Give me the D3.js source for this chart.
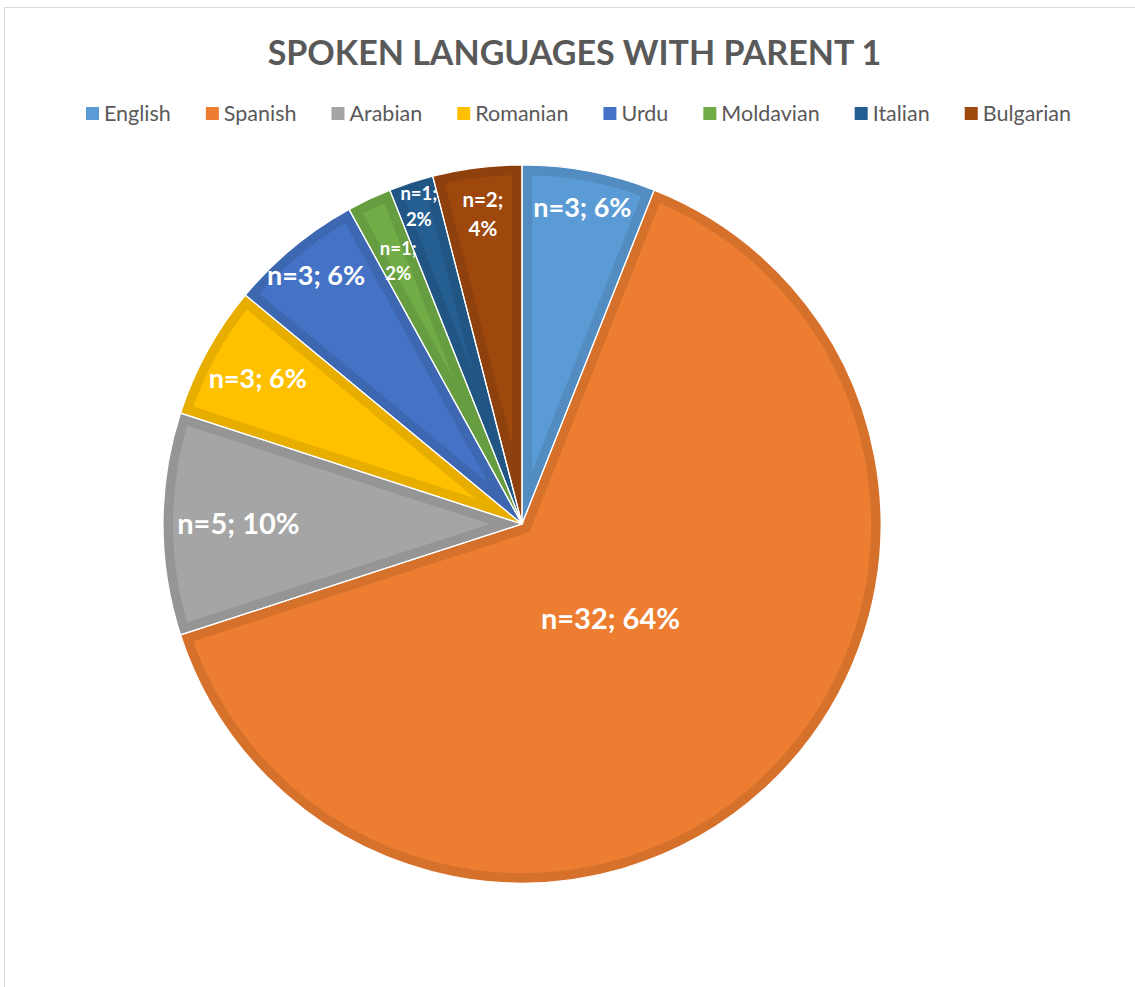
<!DOCTYPE html>
<html>
<head>
<meta charset="utf-8">
<script src="https://cdn.jsdelivr.net/npm/d3@7"></script>
<style>
  html, body { margin: 0; padding: 0; background: #fff; }
  svg { display: block; }
</style>
</head>
<body>
<svg id="chart" width="1135" height="987"></svg>
<script>
// Languages spoken with parent 1 (counts out of 50 respondents)
const languages = ["English", "Spanish", "Arabian", "Romanian", "Urdu", "Moldavian", "Italian", "Bulgarian"];
const counts    = [3, 32, 5, 3, 3, 1, 1, 2];
const colors    = ["#5B9BD5", "#ED7D31", "#A5A5A5", "#FFC000", "#4472C4", "#70AD47", "#255E91", "#9E480E"];

// Label placement: distance from centre as a fraction of the radius, font size, two-line wrap
const labelRadius = [0.897, 0.36, 0.79, 0.84, 0.90, 0.81, 0.93, 0.87];
const labelSize   = [27, 29, 29, 27, 27, 18.5, 18.5, 20.5];
const labelWrap   = [false, false, false, false, false, true, true, true];

const cx = 522, cy = 524, R = 359;
const band = 10;

const svg = d3.select("#chart");

// chart area frame
svg.append("rect")
  .attr("x", 4.5).attr("y", 7.5)
  .attr("width", 1300).attr("height", 1200)
  .attr("fill", "#fff").attr("stroke", "#d9d9d9").attr("stroke-width", 1);

// title
svg.append("text")
  .attr("x", 574.5).attr("y", 65)
  .attr("text-anchor", "middle")
  .attr("font-family", "Lato, 'Open Sans', sans-serif")
  .attr("font-weight", 700)
  .attr("font-size", 34)
  .attr("fill", "#595959")
  .text("SPOKEN LANGUAGES WITH PARENT 1");

// legend, laid out left to right and centred
const legendGap = 35;
const legend = svg.append("g");
const items = legend.selectAll("g.item").data(languages).join("g").attr("class", "item");
items.append("rect")
  .attr("width", 13).attr("height", 13)
  .attr("y", 107)
  .attr("fill", (d, i) => colors[i]);
items.append("text")
  .attr("x", 18).attr("y", 121)
  .attr("font-family", "Lato, 'Open Sans', sans-serif")
  .attr("font-size", 21.5)
  .attr("fill", "#595959")
  .text(d => d);
let xPos = 0;
const offsets = [];
items.each(function () {
  offsets.push(xPos);
  const w = d3.select(this).select("text").node().getComputedTextLength();
  xPos += 18 + w + legendGap;
});
const legendWidth = xPos - legendGap;
const legendStart = 578.5 - legendWidth / 2;
items.attr("transform", (d, i) => `translate(${legendStart + offsets[i]},0)`);

// pie
const total = d3.sum(counts);
const pie = d3.pie().sort(null).value(d => d)(counts);
const arc = d3.arc().innerRadius(0).outerRadius(R);
const g = svg.append("g").attr("transform", `translate(${cx},${cy})`);
const defs = svg.append("defs");

pie.forEach((p, i) => {
  defs.append("clipPath").attr("id", "slice" + i)
    .append("path").attr("d", arc(p));
});

// each slice: fill plus a darker border band kept inside the slice
g.selectAll("path.slice").data(pie).join("path")
  .attr("class", "slice")
  .attr("d", arc)
  .attr("fill", (d, i) => colors[i])
  .attr("stroke", (d, i) => d3.color(colors[i]).darker(0.28))
  .attr("stroke-width", band * 2)
  .attr("stroke-linejoin", "miter")
  .attr("clip-path", (d, i) => `url(#slice${i})`);

// thin white separators between slices
g.selectAll("path.sep").data(pie).join("path")
  .attr("class", "sep")
  .attr("d", arc)
  .attr("fill", "none")
  .attr("stroke", "#fff")
  .attr("stroke-width", 1.2);

// data labels
const labels = g.selectAll("text.lbl").data(pie).join("text")
  .attr("class", "lbl")
  .attr("text-anchor", "middle")
  .attr("font-family", "Lato, 'Open Sans', sans-serif")
  .attr("font-weight", 700)
  .attr("fill", "#fff")
  .attr("font-size", (d, i) => labelSize[i])
  .attr("transform", (d, i) => {
    const a = (d.startAngle + d.endAngle) / 2;
    const r = R * labelRadius[i];
    return `translate(${r * Math.sin(a)},${-r * Math.cos(a)})`;
  });

labels.each(function (d, i) {
  const t = d3.select(this);
  const pct = Math.round(counts[i] / total * 100) + "%";
  const first = `n=${counts[i]};`;
  if (labelWrap[i]) {
    const lh = labelSize[i] * 1.4;
    t.append("tspan").attr("x", 0).attr("y", -lh / 2 + labelSize[i] * 0.36).text(first);
    t.append("tspan").attr("x", 0).attr("y", lh / 2 + labelSize[i] * 0.36).text(pct);
  } else {
    t.append("tspan").attr("x", 0).attr("y", labelSize[i] * 0.36).text(`${first} ${pct}`);
  }
});
</script>
</body>
</html>
